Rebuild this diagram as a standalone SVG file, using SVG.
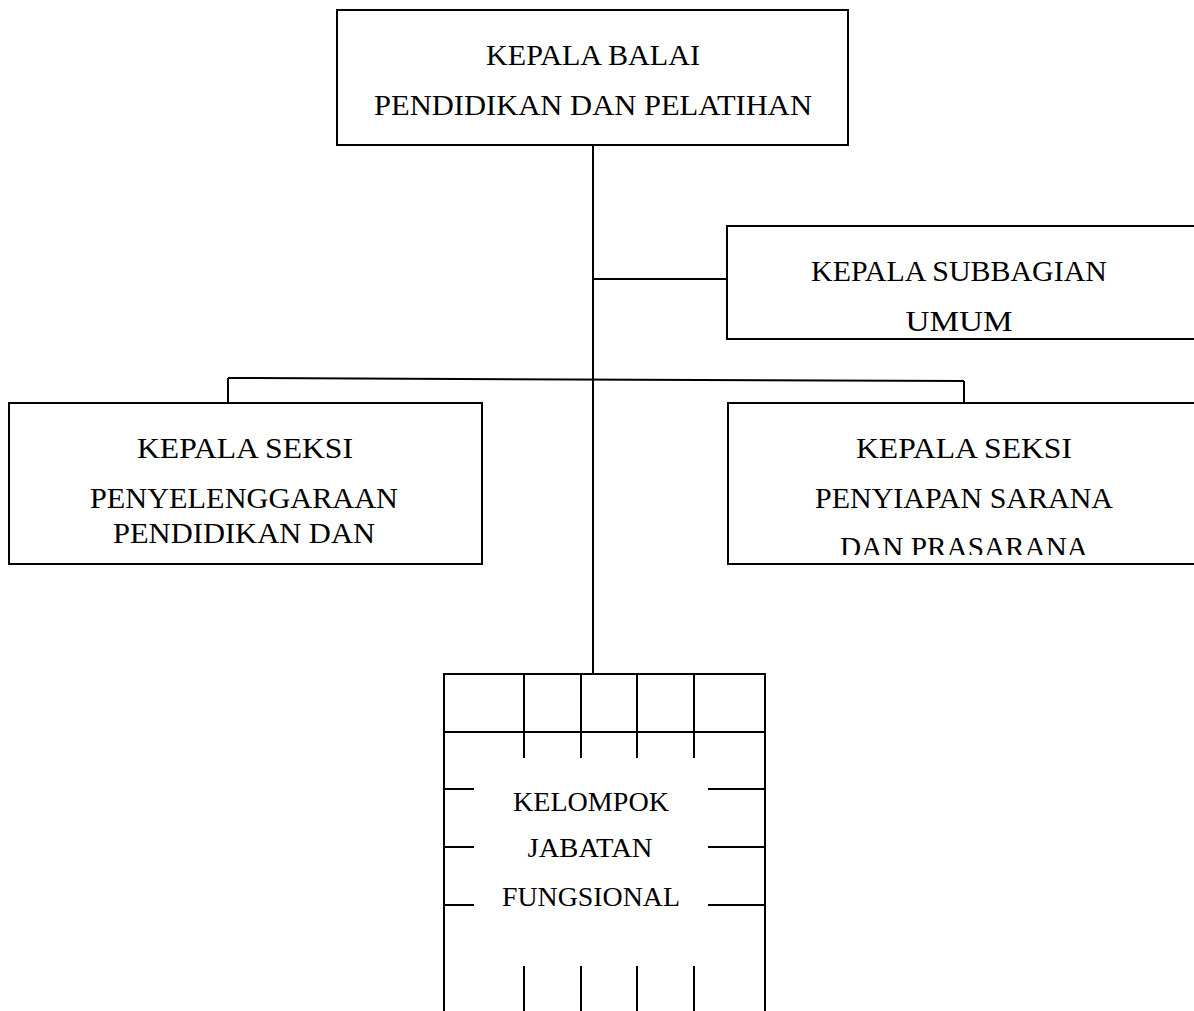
<svg xmlns="http://www.w3.org/2000/svg" width="1194" height="1011" viewBox="0 0 1194 1011">
<style>
.box{fill:#fff;stroke:#000;stroke-width:2}
.ln{stroke:#000;stroke-width:2;fill:none}
text{font-family:"Liberation Serif","Times New Roman",serif;font-size:29px;fill:#000;text-anchor:middle}
.sm{font-size:28px}
</style>
<defs>
<clipPath id="clipR"><rect x="728" y="404" width="470" height="151"/></clipPath>
</defs>
<rect width="1194" height="1011" fill="#fff"/>
<g id="connectors">
<line class="ln" x1="593" y1="145" x2="593" y2="681"/>
<line class="ln" x1="593" y1="279" x2="728" y2="279"/>
<line class="ln" x1="228" y1="378" x2="964" y2="381"/>
<line class="ln" x1="228" y1="378" x2="228" y2="404"/>
<line class="ln" x1="964" y1="381" x2="964" y2="404"/>
</g>
<g id="kepala-balai">
<rect class="box" x="337" y="10" width="511" height="135"/>
<text x="593" y="65" textLength="214" lengthAdjust="spacingAndGlyphs">KEPALA BALAI</text>
<text x="593" y="115" textLength="438" lengthAdjust="spacingAndGlyphs">PENDIDIKAN DAN PELATIHAN</text>
</g>
<g id="subbagian-umum">
<rect class="box" x="727" y="226" width="480" height="113"/>
<text x="959" y="281" textLength="296" lengthAdjust="spacingAndGlyphs">KEPALA SUBBAGIAN</text>
<text x="959" y="331" textLength="107" lengthAdjust="spacingAndGlyphs">UMUM</text>
</g>
<g id="seksi-penyelenggaraan">
<rect class="box" x="9" y="403" width="473" height="161"/>
<text x="245" y="458" textLength="216" lengthAdjust="spacingAndGlyphs">KEPALA SEKSI</text>
<text x="244" y="508" textLength="308" lengthAdjust="spacingAndGlyphs">PENYELENGGARAAN</text>
<text x="244" y="543" textLength="262" lengthAdjust="spacingAndGlyphs">PENDIDIKAN DAN</text>
</g>
<g id="seksi-penyiapan">
<rect class="box" x="728" y="403" width="480" height="161"/>
<text x="964" y="458" textLength="216" lengthAdjust="spacingAndGlyphs">KEPALA SEKSI</text>
<text x="964" y="508" textLength="298" lengthAdjust="spacingAndGlyphs">PENYIAPAN SARANA</text>
<text x="964" y="557" textLength="248" lengthAdjust="spacingAndGlyphs" clip-path="url(#clipR)">DAN PRASARANA</text>
</g>
<g id="kelompok-jabatan-fungsional">
<rect class="box" x="444" y="674" width="321" height="400"/>
<line class="ln" x1="444" y1="732" x2="765" y2="732"/>
<path class="ln" d="M524 674V758M581 674V758M637 674V758M694 674V758M524 966V1015M581 966V1015M637 966V1015M694 966V1015"/>
<path class="ln" d="M444 789H474M444 847H474M444 905H474M708 789H765M708 847H765M708 905H765"/>
<text class="sm" x="591" y="811" textLength="156" lengthAdjust="spacingAndGlyphs">KELOMPOK</text>
<text class="sm" x="590" y="857" textLength="125" lengthAdjust="spacingAndGlyphs">JABATAN</text>
<text class="sm" x="591" y="906" textLength="178" lengthAdjust="spacingAndGlyphs">FUNGSIONAL</text>
</g>
</svg>
